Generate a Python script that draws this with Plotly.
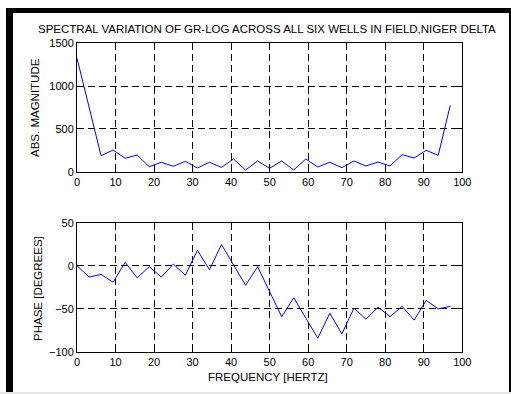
import plotly.graph_objects as go

W, H = 511, 394

freq = [k * 3.125 for k in range(32)]
magnitude = [1325, 745, 187, 253, 156, 195, 58, 110, 63, 121, 43, 110, 51, 148, 20, 125,
             40, 125, 20, 148, 55, 110, 47, 125, 67, 113, 67, 199, 160, 250, 191, 775]
phase = [0, -13, -10, -19, 4, -14, -1, -13, 2, -11, 18, -4.5, 24.6, 1, -22.6, -1,
         -30, -59, -37, -60, -84, -55, -79, -49, -62, -48, -59, -47, -63, -40, -50, -47]

title_text = "SPECTRAL VARIATION OF GR-LOG ACROSS ALL SIX WELLS IN FIELD,NIGER DELTA"
mag_label = "ABS. MAGNITUDE"
phase_label = "PHASE [DEGREES]"
freq_label = "FREQUENCY [HERTZ]"

x_ticks = [0, 10, 20, 30, 40, 50, 60, 70, 80, 90, 100]
mag_ticks = [0, 500, 1000, 1500]
phase_ticks = [-100, -50, 0, 50]

FONT = "Liberation Sans, Arial, sans-serif"

def px_x(p):
    return p / W

def px_y(p):
    return 1 - p / H

fig = go.Figure()
fig.add_trace(go.Scatter(x=freq, y=magnitude, mode="lines",
                         line=dict(color="#0000ff", width=1), xaxis="x", yaxis="y",
                         showlegend=False, hoverinfo="skip"))
fig.add_trace(go.Scatter(x=freq, y=phase, mode="lines",
                         line=dict(color="#0000ff", width=1), xaxis="x2", yaxis="y2",
                         showlegend=False, hoverinfo="skip"))

xdom = [px_x(77), px_x(462.3)]
axis_common = dict(
    showline=True, linecolor="black", linewidth=1, mirror="allticks",
    ticks="inside", ticklen=4, tickcolor="black", tickwidth=1,
    showgrid=True, gridcolor="black", gridwidth=1, griddash="7px,4px",
    zeroline=False, automargin=False,
    tickfont=dict(family=FONT, size=11, color="black"),
)

fig.update_layout(
    width=W, height=H,
    margin=dict(l=0, r=0, t=0, b=0),
    paper_bgcolor="white", plot_bgcolor="white",
    template="none",
    xaxis=dict(domain=xdom, range=[0, 100], tickvals=x_ticks, anchor="y", **axis_common),
    yaxis=dict(domain=[px_y(171.7), px_y(43.3)], range=[0, 1500], tickvals=mag_ticks,
               anchor="x", **axis_common),
    xaxis2=dict(domain=xdom, range=[0, 100], tickvals=x_ticks, anchor="y2", **axis_common),
    yaxis2=dict(domain=[px_y(352), px_y(222.7)], range=[-100, 50], tickvals=phase_ticks,
                anchor="x2", **axis_common),
)

ann_font = dict(family=FONT, size=11.5, color="black")
fig.add_annotation(text=title_text, x=px_x(267), y=px_y(29), xref="paper", yref="paper",
                   showarrow=False, xanchor="center", yanchor="middle", font=ann_font)
fig.add_annotation(text=mag_label, x=px_x(35), y=px_y(108), xref="paper", yref="paper",
                   showarrow=False, textangle=-90, xanchor="center", yanchor="middle", font=ann_font)
fig.add_annotation(text=phase_label, x=px_x(38), y=px_y(289), xref="paper", yref="paper",
                   showarrow=False, textangle=-90, xanchor="center", yanchor="middle", font=ann_font)
fig.add_annotation(text=freq_label, x=px_x(268), y=px_y(377), xref="paper", yref="paper",
                   showarrow=False, xanchor="center", yanchor="middle", font=ann_font)

# window frame
shapes = [
    dict(type="rect", xref="paper", yref="paper", x0=px_x(6), x1=px_x(13), y0=px_y(392), y1=px_y(8),
         fillcolor="black", line=dict(width=0), layer="above"),
    dict(type="rect", xref="paper", yref="paper", x0=px_x(6), x1=px_x(511), y0=px_y(13), y1=px_y(8),
         fillcolor="black", line=dict(width=0), layer="above"),
    dict(type="rect", xref="paper", yref="paper", x0=px_x(509), x1=px_x(511), y0=px_y(392), y1=px_y(8),
         fillcolor="black", line=dict(width=0), layer="above"),
    dict(type="rect", xref="paper", yref="paper", x0=0, x1=1, y0=0, y1=px_y(392),
         fillcolor="#e6e6e6", line=dict(width=0), layer="above"),
]
fig.update_layout(shapes=shapes)

fig.write_html("out.html")
